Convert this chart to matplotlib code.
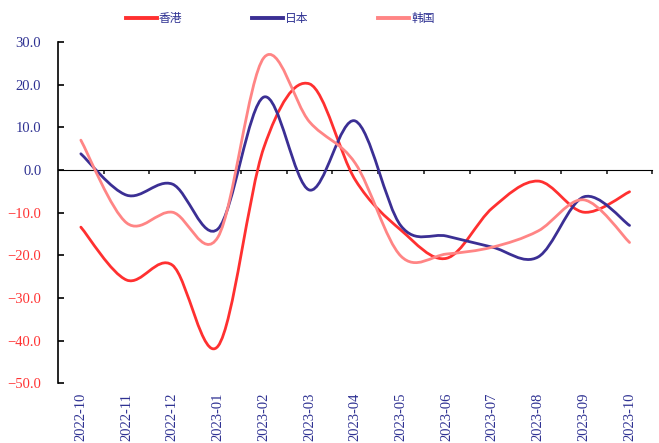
import numpy as np
import matplotlib
matplotlib.use("Agg")
import matplotlib.pyplot as plt
from matplotlib.path import Path
from matplotlib.patches import PathPatch
from matplotlib.lines import Line2D

months = ["2022-10", "2022-11", "2022-12", "2023-01", "2023-02", "2023-03", "2023-04",
          "2023-05", "2023-06", "2023-07", "2023-08", "2023-09", "2023-10"]
hk = [-13.4, -25.8, -22.3, -41.3, 5.2, 20.2, -2.3, -14.1, -20.7, -8.9, -2.6, -9.9, -5.1]
jp = [3.8, -5.9, -3.3, -13.8, 17.1, -4.7, 11.5, -13.1, -15.5, -18.1, -20.4, -6.3, -13.0]
kr = [7.0, -12.4, -9.9, -15.7, 26.3, 11.3, 1.6, -20.2, -19.7, -18.1, -14.3, -7.0, -17.0]
names = ["香港", "日本", "韩国"]
colors = ["#ff3030", "#3b2f94", "#ff8585"]
yticks = [-50, -40, -30, -20, -10, 0, 10, 20, 30]

label_blue = "#2e3192"
label_red = "#ff3333"

plt.rcParams['font.family'] = ['Liberation Serif', 'Noto Sans CJK SC', 'DejaVu Sans']

fig = plt.figure(figsize=(6.59, 4.43), dpi=100)
ax = fig.add_axes([0.088, 0.135, 0.902, 0.77])


def smooth_path(x, y):
    x = np.asarray(x, float)
    y = np.asarray(y, float)
    n = len(x)
    verts = [(x[0], y[0])]
    codes = [Path.MOVETO]
    for i in range(n - 1):
        p0 = np.array([x[max(i - 1, 0)], y[max(i - 1, 0)]])
        p1 = np.array([x[i], y[i]])
        p2 = np.array([x[i + 1], y[i + 1]])
        p3 = np.array([x[min(i + 2, n - 1)], y[min(i + 2, n - 1)]])
        c1 = p1 + (p2 - p0) / 6.0
        c2 = p2 - (p3 - p1) / 6.0
        verts += [tuple(c1), tuple(c2), tuple(p2)]
        codes += [Path.CURVE4] * 3
    return Path(verts, codes)


xs = np.arange(len(months))
for vals, c in zip([hk, jp, kr], colors):
    patch = PathPatch(smooth_path(xs, vals), facecolor='none', edgecolor=c, lw=2.0,
                      capstyle='round', joinstyle='round')
    ax.add_patch(patch)

ax.set_xlim(-0.5, len(months) - 0.5)
ax.set_ylim(-50, 30)

ax.set_yticks(yticks)
ax.set_yticklabels([f"{v:.1f}".replace("-", "\u2212") for v in yticks], fontsize=10.5)
for lab, v in zip(ax.get_yticklabels(), yticks):
    lab.set_color(label_blue if v >= 0 else label_red)
ax.tick_params(axis='y', direction='in', length=4, width=1.2, color='black', pad=12)

ax.set_xticks(xs)
ax.set_xticklabels(months, rotation=90, fontsize=10.5, color=label_blue)
ax.tick_params(axis='x', length=0, pad=7)

for s in ['top', 'right', 'bottom']:
    ax.spines[s].set_visible(False)
ax.spines['left'].set_linewidth(1.2)

sec = ax.secondary_xaxis(50 / 80)
sec.set_xticks(np.arange(0.5, len(months) + 0.5, 1.0))
sec.set_xticklabels([])
sec.tick_params(direction='in', length=3, width=1.2, color='#222222')
sec.spines['bottom'].set_linewidth(1.4)
sec.spines['bottom'].set_color('#333333')

handles = [Line2D([0], [0], color=c, lw=2.8) for c in colors]
leg = fig.legend(handles, names, loc='upper left', bbox_to_anchor=(0.175, 0.996), ncol=3,
                 frameon=False, handlelength=2.6, columnspacing=5.9,
                 handletextpad=0.2, prop={'family': ['Noto Sans CJK SC'], 'size': 8.5})
for t in leg.get_texts():
    t.set_color(label_blue)

fig.savefig("out.png", dpi=100)
